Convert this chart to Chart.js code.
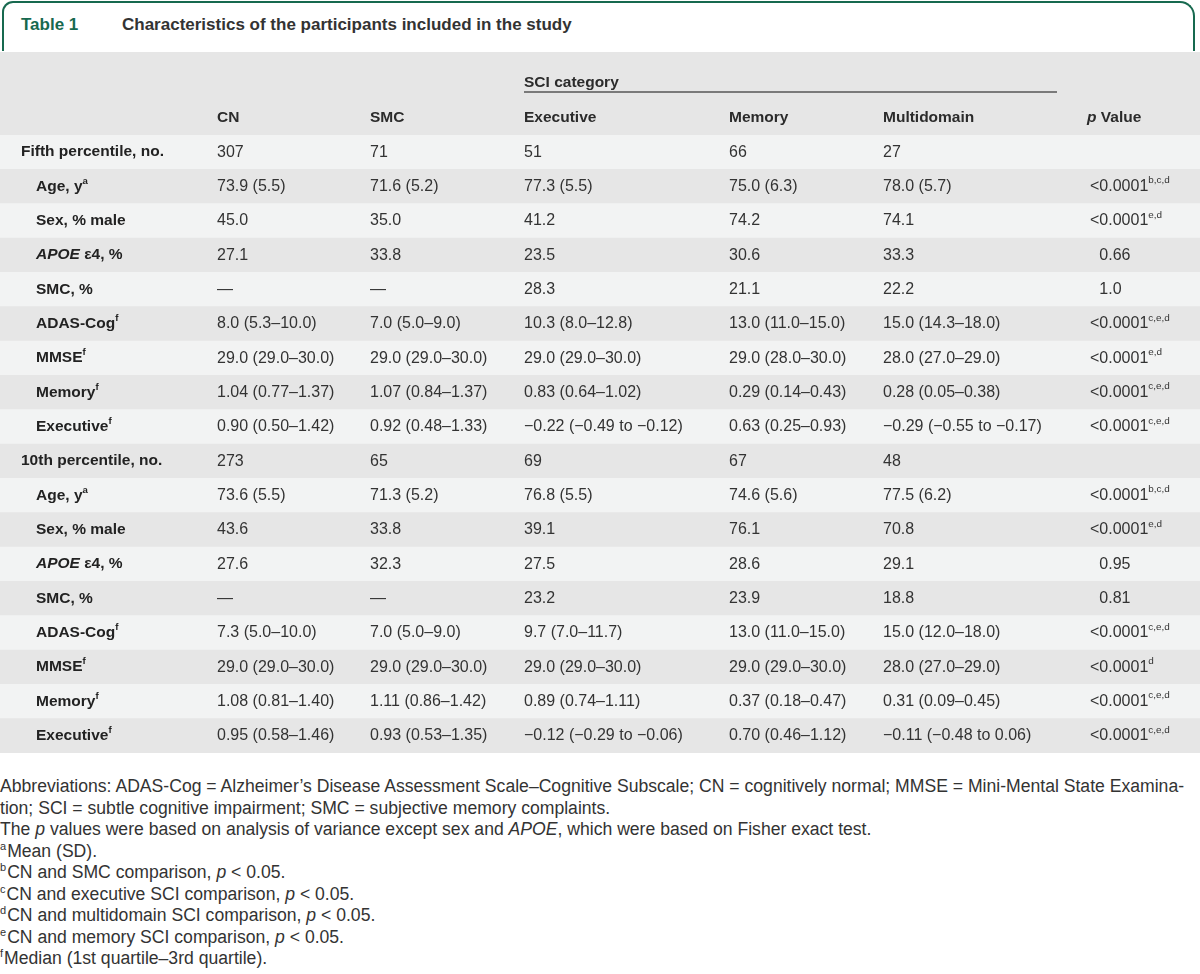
<!DOCTYPE html>
<html>
<head>
<meta charset="utf-8">
<script src="https://cdn.jsdelivr.net/npm/chart.js@4"></script>
<style>
  html, body { margin: 0; padding: 0; background: #fff; }
  body { width: 1200px; height: 974px; position: relative; overflow: hidden; font-family: "Liberation Sans", Arial, sans-serif; color: #333; }
  #title {
    position: absolute; left: 2px; top: 1px; width: 1193px; height: 50px;
    border: 2.5px solid #17694f; border-bottom: none; border-radius: 11px 15px 0 0;
    box-sizing: border-box;
  }
  #title span { position: absolute; top: 12px; font-weight: bold; font-size: 17px; white-space: nowrap; }
  #title .num { left: 17px; color: #17694f; }
  #title .cap { left: 118px; color: #333; }
  #table { position: absolute; left: 0; top: 52px; width: 1200px; height: 701px; }
  #notes { position: absolute; left: 0; top: 776px; width: 1200px; font-size: 17.6px; line-height: 21.5px; color: #333; }
  #notes div { white-space: nowrap; }
  #notes sup { font-size: 11px; line-height: 0; vertical-align: 7px; margin-right: 1px; }
</style>
</head>
<body>
<div id="title"><span class="num">Table 1</span><span class="cap">Characteristics of the participants included in the study</span></div>
<div id="table"><canvas id="chart" width="1200" height="701"></canvas></div>
<div id="notes">
  <div>Abbreviations: ADAS-Cog = Alzheimer’s Disease Assessment Scale–Cognitive Subscale; CN = cognitively normal; MMSE = Mini-Mental State Examina-</div>
  <div>tion; SCI = subtle cognitive impairment; SMC = subjective memory complaints.</div>
  <div>The <i>p</i> values were based on analysis of variance except sex and <i>APOE</i>, which were based on Fisher exact test.</div>
  <div><sup>a</sup>Mean (SD).</div>
  <div><sup>b</sup>CN and SMC comparison, <i>p</i> &lt; 0.05.</div>
  <div><sup>c</sup>CN and executive SCI comparison, <i>p</i> &lt; 0.05.</div>
  <div><sup>d</sup>CN and multidomain SCI comparison, <i>p</i> &lt; 0.05.</div>
  <div><sup>e</sup>CN and memory SCI comparison, <i>p</i> &lt; 0.05.</div>
  <div><sup>f</sup>Median (1st quartile–3rd quartile).</div>
</div>
<script>
// table content: *x* = italic, ^x = superscript
const columnHeaders = ['CN', 'SMC', 'Executive', 'Memory', 'Multidomain', '*p* Value'];
const groupHeader = 'SCI category';

const rowLabels = [
    'Fifth percentile, no.', 'Age, y^a', 'Sex, % male', '*APOE* ε4, %', 'SMC, %', 'ADAS-Cog^f', 'MMSE^f', 'Memory^f', 'Executive^f',
    '10th percentile, no.', 'Age, y^a', 'Sex, % male', '*APOE* ε4, %', 'SMC, %', 'ADAS-Cog^f', 'MMSE^f', 'Memory^f', 'Executive^f',
];
const groupRows = [0, 9];

const cnValues = [
    '307', '73.9 (5.5)', '45.0', '27.1', '—', '8.0 (5.3–10.0)', '29.0 (29.0–30.0)', '1.04 (0.77–1.37)', '0.90 (0.50–1.42)',
    '273', '73.6 (5.5)', '43.6', '27.6', '—', '7.3 (5.0–10.0)', '29.0 (29.0–30.0)', '1.08 (0.81–1.40)', '0.95 (0.58–1.46)',
];
const smcValues = [
    '71', '71.6 (5.2)', '35.0', '33.8', '—', '7.0 (5.0–9.0)', '29.0 (29.0–30.0)', '1.07 (0.84–1.37)', '0.92 (0.48–1.33)',
    '65', '71.3 (5.2)', '33.8', '32.3', '—', '7.0 (5.0–9.0)', '29.0 (29.0–30.0)', '1.11 (0.86–1.42)', '0.93 (0.53–1.35)',
];
const executiveValues = [
    '51', '77.3 (5.5)', '41.2', '23.5', '28.3', '10.3 (8.0–12.8)', '29.0 (29.0–30.0)', '0.83 (0.64–1.02)', '−0.22 (−0.49 to −0.12)',
    '69', '76.8 (5.5)', '39.1', '27.5', '23.2', '9.7 (7.0–11.7)', '29.0 (29.0–30.0)', '0.89 (0.74–1.11)', '−0.12 (−0.29 to −0.06)',
];
const memoryValues = [
    '66', '75.0 (6.3)', '74.2', '30.6', '21.1', '13.0 (11.0–15.0)', '29.0 (28.0–30.0)', '0.29 (0.14–0.43)', '0.63 (0.25–0.93)',
    '67', '74.6 (5.6)', '76.1', '28.6', '23.9', '13.0 (11.0–15.0)', '29.0 (29.0–30.0)', '0.37 (0.18–0.47)', '0.70 (0.46–1.12)',
];
const multidomainValues = [
    '27', '78.0 (5.7)', '74.1', '33.3', '22.2', '15.0 (14.3–18.0)', '28.0 (27.0–29.0)', '0.28 (0.05–0.38)', '−0.29 (−0.55 to −0.17)',
    '48', '77.5 (6.2)', '70.8', '29.1', '18.8', '15.0 (12.0–18.0)', '28.0 (27.0–29.0)', '0.31 (0.09–0.45)', '−0.11 (−0.48 to 0.06)',
];
const pValues = [
    '', '<0.0001^b,c,d', '<0.0001^e,d', '0.66', '1.0', '<0.0001^c,e,d', '<0.0001^e,d', '<0.0001^c,e,d', '<0.0001^c,e,d',
    '', '<0.0001^b,c,d', '<0.0001^e,d', '0.95', '0.81', '<0.0001^c,e,d', '<0.0001^d', '<0.0001^c,e,d', '<0.0001^c,e,d',
];

const columns = [cnValues, smcValues, executiveValues, memoryValues, multidomainValues, pValues];

// layout (x on a 0..1200 scale)
const colX = [217, 370, 524, 729, 883, 1090];
const headerX = [217, 370, 524, 729, 883, 1087];
const FONT = '"Liberation Sans", Arial, sans-serif';

function drawRich(ctx, text, x, y, weight, color, size) {
    const parts = text.split(/(\*[^*]+\*|\^\S+)/).filter(Boolean);
    ctx.fillStyle = color;
    ctx.textBaseline = 'middle';
    ctx.textAlign = 'left';
    for (const part of parts) {
        let s = size, dy = 0, style = '', t = part;
        if (part.startsWith('*')) { style = 'italic '; t = part.slice(1, -1); }
        else if (part.startsWith('^')) { s = size * 0.62; dy = -size * 0.36; t = part.slice(1); }
        ctx.font = `${style}${weight} ${s}px ${FONT}`;
        ctx.fillText(t, x, y + dy);
        x += ctx.measureText(t).width;
    }
}

const tableText = {
    id: 'tableText',
    beforeDatasetsDraw(chart) {
        const { ctx, chartArea } = chart;
        ctx.save();
        ctx.fillStyle = '#e6e6e6';
        ctx.fillRect(0, 0, chart.width, chartArea.top);
        ctx.restore();
    },
    afterDatasetsDraw(chart) {
        const { ctx, chartArea } = chart;
        const x = chart.scales.x, y = chart.scales.y;
        ctx.save();
        // header
        const hY = chartArea.top - 17;
        drawRich(ctx, groupHeader, x.getPixelForValue(headerX[2]), hY - 35, 'bold', '#2b2b2b', 15.5);
        ctx.strokeStyle = '#7a7a7a';
        ctx.lineWidth = 2;
        ctx.beginPath();
        ctx.moveTo(x.getPixelForValue(524), hY - 26);
        ctx.lineTo(x.getPixelForValue(1057), hY - 26);
        ctx.stroke();
        columnHeaders.forEach((h, j) => drawRich(ctx, h, x.getPixelForValue(headerX[j]), hY, 'bold', '#2b2b2b', 15.5));

        // body
        ctx.font = `16px ${FONT}`;
        const ltW = ctx.measureText('<').width;
        rowLabels.forEach((label, i) => {
            const py = y.getPixelForValue(i);
            const lx = groupRows.includes(i) ? 21 : 36;
            drawRich(ctx, label, x.getPixelForValue(lx), py, 'bold', '#222', 15.5);
            columns.forEach((col, j) => {
                const v = col[i];
                if (!v) return;
                let cx = x.getPixelForValue(colX[j]);
                if (j === 5 && !v.startsWith('<')) cx += ltW;
                drawRich(ctx, v, cx, py, 'normal', '#333', 16);
            });
        });
        ctx.restore();
    },
};

new Chart(document.getElementById('chart'), {
    type: 'bar',
    data: {
        labels: rowLabels,
        datasets: [{
            data: rowLabels.map(() => [0, 1200]),
            backgroundColor: rowLabels.map((_, i) => (i % 2 ? '#e6e6e6' : '#f2f3f3')),
            borderWidth: 0,
            barPercentage: 1,
            categoryPercentage: 1,
        }],
    },
    options: {
        indexAxis: 'y',
        responsive: false,
        animation: false,
        events: [],
        layout: { padding: { top: 83, left: 0, right: 0, bottom: 0 } },
        plugins: { legend: { display: false }, tooltip: { enabled: false } },
        scales: {
            x: { type: 'linear', min: 0, max: 1200, display: false },
            y: { type: 'category', display: false, offset: true, grid: { display: false } },
        },
    },
    plugins: [tableText],
});
</script>
</body>
</html>
